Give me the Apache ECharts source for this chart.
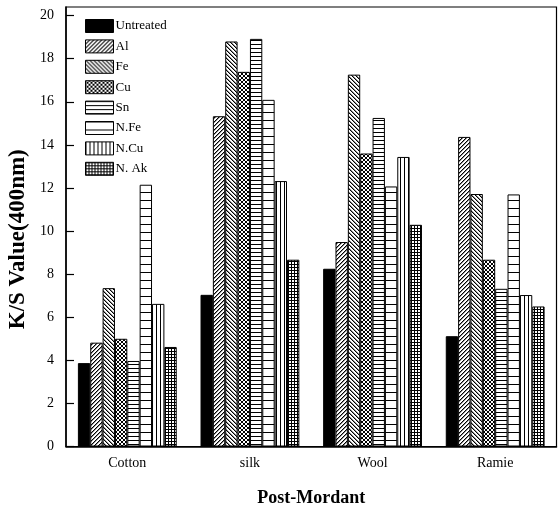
<!DOCTYPE html>
<html>
<head>
<meta charset="utf-8">
<script src="https://cdn.jsdelivr.net/npm/echarts@6/dist/echarts.min.js"></script>
<style>
html,body{margin:0;padding:0;background:#fff;}
#chart{width:558px;height:510px;}
</style>
</head>
<body>
<div id="chart"></div>
<script>
var categories = ['Cotton', 'silk', 'Wool', 'Ramie'];
var seriesNames = ['Untreated', 'Al', 'Fe', 'Cu', 'Sn', 'N.Fe', 'N.Cu', 'N. Ak'];
var untreated = [3.87, 7.04, 8.25, 5.12];
var al = [4.82, 15.33, 9.49, 14.37];
var fe = [7.35, 18.8, 17.26, 11.72];
var cu = [5.0, 17.39, 13.6, 8.67];
var sn = [3.97, 18.92, 15.25, 7.32];
var nfe = [12.15, 16.09, 12.07, 11.7];
var ncu = [6.62, 12.32, 13.44, 7.03];
var nak = [4.62, 8.67, 10.29, 6.5];
var yTicks = [0, 2, 4, 6, 8, 10, 12, 14, 16, 18, 20];

var seriesData = [untreated, al, fe, cu, sn, nfe, ncu, nak];
var patternTypes = ['solid', 'fwd', 'back', 'cross', 'hlineDense', 'hlineWide', 'vline', 'grid'];

function makePattern(type) {
  if (type === 'solid') return '#000';
  var c = document.createElement('canvas');
  var ctx, s, i;
  if (type === 'fwd' || type === 'back' || type === 'cross') {
    s = 4;
    c.width = s; c.height = s;
    ctx = c.getContext('2d');
    ctx.fillStyle = '#fff'; ctx.fillRect(0, 0, s, s);
    for (i = 0; i < s; i++) {
      if (type === 'fwd' || type === 'cross') {
        ctx.fillStyle = '#000'; ctx.fillRect(i, s - 1 - i, 1, 1);
        if (type === 'fwd') { ctx.fillStyle = 'rgba(0,0,0,0.45)'; ctx.fillRect((i + 1) % s, s - 1 - i, 1, 1); }
      }
      if (type === 'back' || type === 'cross') {
        ctx.fillStyle = '#000'; ctx.fillRect(i, i, 1, 1);
        if (type === 'back') { ctx.fillStyle = 'rgba(0,0,0,0.45)'; ctx.fillRect((i + 1) % s, i, 1, 1); }
      }
    }
  } else if (type === 'hlineDense' || type === 'hlineWide') {
    s = type === 'hlineDense' ? 4 : 8;
    c.width = 4; c.height = s;
    ctx = c.getContext('2d');
    ctx.fillStyle = '#fff'; ctx.fillRect(0, 0, 4, s);
    ctx.fillStyle = '#000'; ctx.fillRect(0, 0, 4, 1);
  } else if (type === 'vline') {
    s = 4;
    c.width = s; c.height = 4;
    ctx = c.getContext('2d');
    ctx.fillStyle = '#fff'; ctx.fillRect(0, 0, s, 4);
    ctx.fillStyle = '#000'; ctx.fillRect(0, 0, 1, 4);
  } else if (type === 'grid') {
    s = 3;
    c.width = s; c.height = s;
    ctx = c.getContext('2d');
    ctx.fillStyle = '#fff'; ctx.fillRect(0, 0, s, s);
    ctx.fillStyle = '#000'; ctx.fillRect(0, 0, s, 1); ctx.fillRect(0, 0, 1, s);
  }
  return { image: c, repeat: 'repeat' };
}

var font = 'Liberation Serif';
var series = seriesNames.map(function (name, i) {
  return {
    name: name,
    type: 'bar',
    data: seriesData[i],
    barGap: '0%',
    barCategoryGap: '19.4%',
    itemStyle: { color: makePattern(patternTypes[i]), borderColor: '#000', borderWidth: 1 },
    emphasis: { disabled: true }
  };
});

var chart = echarts.init(document.getElementById('chart'), null, { renderer: 'canvas' });
chart.setOption({
  animation: false,
  backgroundColor: '#fff',
  grid: {
    left: 66, right: 1.5, top: 7, bottom: 63.5,
    containLabel: false, outerBoundsMode: 'none',
    show: true, borderColor: '#000', borderWidth: 1.2, backgroundColor: 'transparent'
  },
  legend: {
    orient: 'vertical',
    left: 80, top: 14,
    itemWidth: 28, itemHeight: 13, itemGap: 6.4,
    data: seriesNames,
    textStyle: { fontFamily: font, fontSize: 13, color: '#000', padding: [0, 0, 0, -3] },
    itemStyle: { borderColor: '#000', borderWidth: 1 },
    icon: 'rect',
    selectedMode: false
  },
  xAxis: {
    type: 'category',
    data: categories,
    name: 'Post-Mordant',
    nameLocation: 'middle',
    nameGap: 43,
    nameTextStyle: { fontFamily: font, fontSize: 18, fontWeight: 'bold', color: '#000' },
    axisLine: { lineStyle: { color: '#000', width: 1.5 } },
    axisTick: { show: false },
    axisLabel: { fontFamily: font, fontSize: 14, color: '#000', margin: 10 },
    splitLine: { show: false }
  },
  yAxis: {
    type: 'value',
    min: 0, max: 20.4, interval: 2,
    name: 'K/S Value(400nm)',
    nameLocation: 'middle',
    nameGap: 34,
    nameTextStyle: { fontFamily: font, fontSize: 23, fontWeight: 'bold', color: '#000', padding: [0, 25, 0, 0] },
    axisLine: { show: true, lineStyle: { color: '#000', width: 1.5 } },
    axisTick: { show: true, inside: true, length: 8, lineStyle: { color: '#000', width: 1.2 } },
    axisLabel: {
      fontFamily: font, fontSize: 14, color: '#000', margin: 12, showMaxLabel: false,
      formatter: function (v) { return yTicks.indexOf(v) >= 0 ? String(v) : ''; }
    },
    splitLine: { show: false }
  },
  series: series
});
</script>
</body>
</html>
